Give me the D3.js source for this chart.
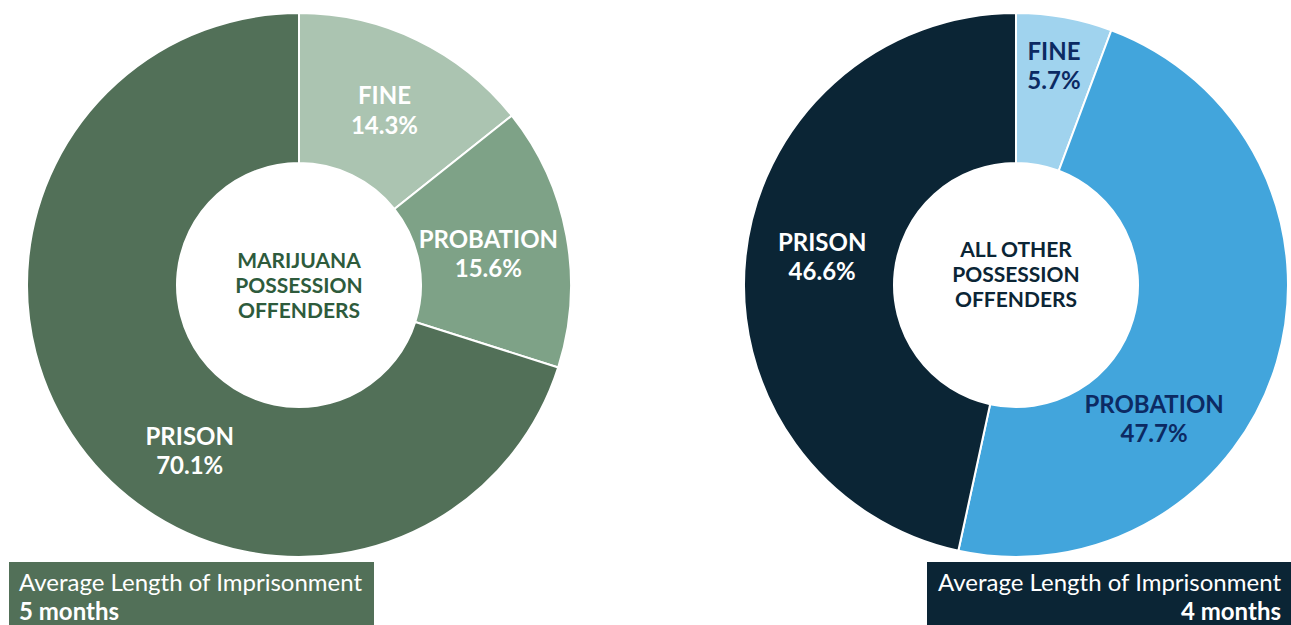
<!DOCTYPE html>
<html>
<head>
<meta charset="utf-8">
<script src="https://cdn.jsdelivr.net/npm/d3@7"></script>
<style>
  body { margin: 0; background: #fff; }
  text { font-family: Lato, "Open Sans", sans-serif; }
</style>
</head>
<body>
<svg id="chart" width="1291" height="625"></svg>
<script>
// data for the two donuts
var categories = ["FINE", "PROBATION", "PRISON"];
var marijuana_values = [14.3, 15.6, 70.1];
var other_values = [5.7, 47.7, 46.6];

var marijuana_title = ["MARIJUANA", "POSSESSION", "OFFENDERS"];
var other_title = ["ALL OTHER", "POSSESSION", "OFFENDERS"];

var marijuana_months = "5 months";
var other_months = "4 months";
var box_label = "Average Length of Imprisonment";

// label placement (angle in degrees clockwise from top, radius)
var marijuana_label_pos = [[26, 195], [80.5, 192], [213.5, 198]];
var other_label_pos = [[9.8, 223], [134, 192], [278.5, 196]];

var svg = d3.select("#chart");

var outer_r = 272;
var inner_r = 122;

function draw_donut(cx, cy, values, colors, label_colors, label_pos, title, title_color, title_dy) {

    var g = svg.append("g").attr("transform", "translate(" + cx + "," + cy + ")");

    var pie = d3.pie().sort(null).value(function(d) { return d; });
    var arc = d3.arc().innerRadius(inner_r).outerRadius(outer_r);

    g.selectAll("path")
        .data(pie(values))
        .enter().append("path")
        .attr("d", arc)
        .attr("fill", function(d, i) { return colors[i]; })
        .attr("stroke", "#fff")
        .attr("stroke-width", 2);

    // slice labels
    categories.forEach(function(c, i) {
        var a = label_pos[i][0] * Math.PI / 180;
        var r = label_pos[i][1];
        var x = r * Math.sin(a);
        var y = -r * Math.cos(a);
        var t = g.append("text")
            .attr("text-anchor", "middle")
            .attr("font-size", 24)
            .attr("font-weight", 700)
            .attr("fill", label_colors[i]);
        t.append("tspan").attr("x", x).attr("y", y - 5.5).text(c);
        t.append("tspan").attr("x", x).attr("y", y + 24).text(values[i].toFixed(1) + "%");
    });

    // center title
    var ct = g.append("text")
        .attr("text-anchor", "middle")
        .attr("font-size", 21)
        .attr("font-weight", 700)
        .attr("fill", title_color);
    title.forEach(function(line, i) {
        ct.append("tspan").attr("x", 0).attr("y", (i - 1) * 25 + 7.5 + title_dy).text(line);
    });
}

draw_donut(299, 285, marijuana_values,
    ["#abc4b1", "#7ea287", "#527058"],
    ["#fff", "#fff", "#fff"],
    marijuana_label_pos, marijuana_title, "#2e5b3c", 0);

draw_donut(1016, 285, other_values,
    ["#a0d3ee", "#42a5dc", "#0b2535"],
    ["#0c2a63", "#0c2a63", "#fff"],
    other_label_pos, other_title, "#0b2535", -10.5);

// footer boxes
function draw_box(x, w, fill, anchor, months) {
    svg.append("rect")
        .attr("x", x).attr("y", 562)
        .attr("width", w).attr("height", 63)
        .attr("fill", fill);
    var tx = anchor == "start" ? x + 10 : x + w - 10;
    svg.append("text")
        .attr("x", tx).attr("y", 591)
        .attr("text-anchor", anchor)
        .attr("font-size", 24)
        .attr("fill", "#fff")
        .text(box_label);
    svg.append("text")
        .attr("x", tx).attr("y", 620)
        .attr("text-anchor", anchor)
        .attr("font-size", 24)
        .attr("font-weight", 700)
        .attr("fill", "#fff")
        .text(months);
}

draw_box(9, 365, "#527058", "start", marijuana_months);
draw_box(927, 364, "#0b2535", "end", other_months);
</script>
</body>
</html>
